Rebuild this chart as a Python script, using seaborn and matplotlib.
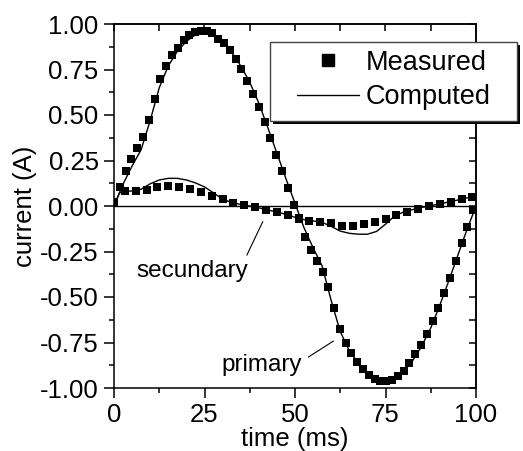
import numpy as np
import pandas as pd
import seaborn as sns
import matplotlib
matplotlib.use('Agg')
import matplotlib.pyplot as plt
from matplotlib.patches import Rectangle
from matplotlib.lines import Line2D
from matplotlib.ticker import MultipleLocator, FormatStrFormatter

# ---------------- data ----------------
t_meas_primary = [0.0, 1.6, 3.2, 4.8, 6.4, 8.0, 9.6, 11.2, 12.8, 14.4, 16.0, 17.6, 19.2, 20.8,
                  22.4, 24.0, 25.6, 27.2, 28.8, 30.4, 32.0, 33.6, 35.2, 36.8, 38.4, 40.0, 41.6,
                  43.2, 44.8, 46.4, 48.0, 49.6, 51.2, 52.8, 54.4, 56.0, 57.6, 59.2, 60.8, 62.4,
                  64.0, 65.6, 67.2, 68.8, 70.4, 72.0, 73.6, 75.2, 76.8, 78.4, 80.0, 81.6, 83.2,
                  84.8, 86.4, 88.0, 89.6, 91.2, 92.8, 94.4, 96.0, 97.6, 99.2]
i_meas_primary = [0.02, 0.106, 0.19, 0.26, 0.32, 0.38, 0.47, 0.59, 0.70, 0.77, 0.83, 0.87, 0.91,
                  0.94, 0.955, 0.96, 0.96, 0.948, 0.92, 0.896, 0.856, 0.81, 0.753, 0.685, 0.617,
                  0.544, 0.46, 0.373, 0.28, 0.19, 0.097, 0.008, -0.07, -0.17, -0.24, -0.30, -0.36,
                  -0.445, -0.56, -0.674, -0.753, -0.81, -0.858, -0.898, -0.927, -0.95, -0.962,
                  -0.962, -0.955, -0.933, -0.904, -0.863, -0.815, -0.762, -0.705, -0.634, -0.558,
                  -0.478, -0.393, -0.303, -0.206, -0.117, -0.022]

t_meas_secondary = [3, 6, 9, 12, 15, 18, 21, 24, 27, 30, 33, 36, 39, 42, 45, 48, 51, 54, 57, 60,
                    63, 66, 69, 72, 75, 78, 81, 84, 87, 90, 93, 96, 99]
i_meas_secondary = [0.083, 0.083, 0.088, 0.106, 0.112, 0.105, 0.094, 0.077, 0.055, 0.037, 0.019,
                    0.006, -0.007, -0.02, -0.033, -0.049, -0.066, -0.083, -0.086, -0.096, -0.108,
                    -0.11, -0.099, -0.09, -0.072, -0.05, -0.031, -0.017, 0.0, 0.011, 0.024, 0.037,
                    0.051]

t_comp_primary = [0, 2.5, 5, 7.5, 10, 12.5, 15, 17.5, 20, 22.5, 25, 27.5, 30, 32.5, 35, 37.5, 40,
                  42.5, 45, 47.5, 50, 52.5, 55, 57.5, 60, 62.5, 65, 67.5, 70, 72.5, 75, 77.5, 80,
                  82.5, 85, 87.5, 90, 92.5, 95, 97.5, 100]
i_comp_primary = [0.0, 0.12, 0.22, 0.31, 0.47, 0.65, 0.77, 0.85, 0.905, 0.94, 0.955, 0.945, 0.905,
                  0.845, 0.77, 0.68, 0.565, 0.43, 0.29, 0.15, 0.015, -0.12, -0.23, -0.33, -0.52,
                  -0.69, -0.795, -0.865, -0.915, -0.945, -0.955, -0.945, -0.91, -0.85, -0.77,
                  -0.67, -0.545, -0.41, -0.27, -0.13, 0.0]

t_comp_secondary = [0, 1.5, 2.5, 5, 7.5, 10, 12.5, 15, 17.5, 20, 22.5, 25, 27.5, 30, 32.5, 35, 37.5,
                    40, 42.5, 45, 47.5, 50, 52.5, 55, 57.5, 60, 62.5, 65, 67.5, 70, 72.5, 75, 77.5,
                    80, 82.5, 85, 87.5, 90, 92.5, 95, 97.5, 100]
i_comp_secondary = [0.0, 0.072, 0.078, 0.083, 0.092, 0.122, 0.143, 0.152, 0.152, 0.143, 0.127,
                    0.105, 0.072, 0.037, 0.02, 0.008, 0.0, -0.01, -0.022, -0.033, -0.046, -0.062,
                    -0.075, -0.082, -0.09, -0.112, -0.138, -0.15, -0.155, -0.155, -0.14, -0.1,
                    -0.055, -0.033, -0.02, -0.008, 0.002, 0.012, 0.022, 0.033, 0.044, 0.055]

legend_labels = ['Measured', 'Computed']

# ---------------- style ----------------
sns.set_style('ticks')
plt.rcParams['font.family'] = ['Liberation Sans', 'DejaVu Sans']
plt.rcParams['axes.unicode_minus'] = False
plt.rcParams['text.color'] = 'black'
plt.rcParams['axes.labelcolor'] = 'black'
plt.rcParams['xtick.color'] = 'black'
plt.rcParams['ytick.color'] = 'black'
plt.rcParams['axes.edgecolor'] = 'black'

W, H = 523, 451
fig = plt.figure(figsize=(W / 100, H / 100), dpi=100)
ax = fig.add_axes([114 / W, 1 - 388 / H, 362 / W, 364 / H])

df_mp = pd.DataFrame({'t': t_meas_primary, 'i': i_meas_primary})
df_ms = pd.DataFrame({'t': t_meas_secondary, 'i': i_meas_secondary})
df_cp = pd.DataFrame({'t': t_comp_primary, 'i': i_comp_primary})
df_cs = pd.DataFrame({'t': t_comp_secondary, 'i': i_comp_secondary})

ax.axhline(0, color='black', lw=1.0, zorder=1)
for d in (df_cp, df_cs):
    sns.lineplot(data=d, x='t', y='i', color='black', lw=1.0, estimator=None,
                 sort=False, ax=ax, zorder=2)
for d in (df_mp, df_ms):
    sns.scatterplot(data=d, x='t', y='i', marker='s', s=26, color='black',
                    linewidth=0, ax=ax, zorder=3)

ax.set_xlim(0, 100)
ax.set_ylim(-1, 1)
ax.xaxis.set_major_locator(MultipleLocator(25))
ax.xaxis.set_minor_locator(MultipleLocator(12.5))
ax.yaxis.set_major_locator(MultipleLocator(0.25))
ax.yaxis.set_minor_locator(MultipleLocator(0.125))
ax.yaxis.set_major_formatter(FormatStrFormatter('%.2f'))
ax.tick_params(which='major', direction='out', length=7, width=1.1, labelsize=18.5,
               pad=4, color='black', labelcolor='black')
ax.tick_params(which='minor', direction='out', length=3.5, width=1.1, color='black')
for s in ax.spines.values():
    s.set_linewidth(1.1)
    s.set_color('black')

sx = ax.secondary_xaxis('top')
sx.xaxis.set_major_locator(MultipleLocator(12.5))
sx.tick_params(direction='in', length=5, width=1.1, labeltop=False, color='black')
sx.spines['top'].set_linewidth(1.1)
sx.spines['top'].set_color('black')
sy = ax.secondary_yaxis('right')
sy.yaxis.set_major_locator(MultipleLocator(0.125))
sy.tick_params(direction='in', length=5, width=1.1, labelright=False, color='black')
sy.spines['right'].set_linewidth(1.1)
sy.spines['right'].set_color('black')

ax.set_xlabel('time (ms)', fontsize=18.5, labelpad=0, color='black')
ax.set_ylabel('current (A)', fontsize=18.5, labelpad=2, color='black')

# annotations
ax.annotate('', xy=(41.1, -0.086), xytext=(36.7, -0.27),
            arrowprops=dict(arrowstyle='-', lw=0.8, color='black', shrinkA=0, shrinkB=0))
ax.text(21.7, -0.389, 'secundary', fontsize=17.5, ha='center', va='baseline', color='black')
ax.annotate('', xy=(60.6, -0.742), xytext=(53.7, -0.83),
            arrowprops=dict(arrowstyle='-', lw=0.8, color='black', shrinkA=0, shrinkB=0))
ax.text(40.7, -0.904, 'primary', fontsize=17.5, ha='center', va='baseline', color='black')

# legend with shadowed box
shadow = Rectangle((273 / W, 1 - 124 / H), 247 / W, 79 / H, facecolor='black',
                   edgecolor='none', transform=fig.transFigure, zorder=4)
box = Rectangle((270 / W, 1 - 121 / H), 247 / W, 79 / H, facecolor='white',
                edgecolor='#444444', lw=1.0, transform=fig.transFigure, zorder=5)
fig.add_artist(shadow)
fig.add_artist(box)
handles = [Line2D([], [], marker='s', ls='none', color='black', markersize=8.4),
           Line2D([], [], color='black', lw=1.0)]
leg = fig.legend(handles, legend_labels, loc='center', bbox_to_anchor=(394 / W, 1 - 80 / H),
                 frameon=False, fontsize=19.5, handlelength=2.3, handletextpad=0.25,
                 labelspacing=0.3, borderpad=0)
for txt in leg.get_texts():
    txt.set_color('black')
leg.set_zorder(6)

fig.savefig('out.png', dpi=100)
